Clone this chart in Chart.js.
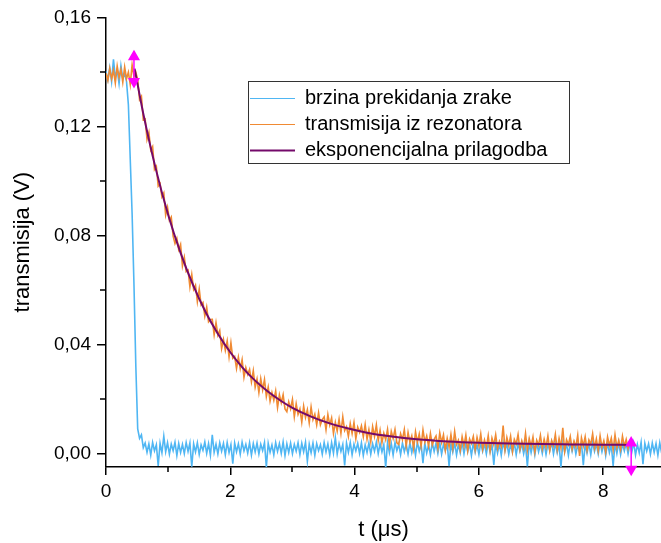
<!DOCTYPE html>
<html>
<head>
<meta charset="utf-8">
<title>transmisija</title>
<script src="https://cdn.jsdelivr.net/npm/chart.js@4.4.0/dist/chart.umd.min.js"></script>
<style>
    html, body { margin: 0; padding: 0; background: #fff; }
    #wrap { width: 661px; height: 543px; position: relative; }
</style>
</head>
<body>
<div id="wrap"><canvas id="decayChart"></canvas></div>
<script>
// scope sampling step (µs) for both traces
const SAMPLE_STEP = 0.03;

// beam chopping signal (V), one value per sample
const beamValues = [
    0.1402, 0.1371, 0.1415, 0.1364, 0.1446, 0.1380, 0.1408, 0.1357, 0.1423, 0.1376, 0.1394,
    0.1365, 0.1280, 0.1080, 0.0880, 0.0620, 0.0320, 0.0090, 0.0055, 0.0068, 0.0021,
    0.0038, 0.0004, 0.0035, -0.0006, 0.0040, 0.0009, 0.0032, -0.0046, 0.0037, 0.0002, 0.0063, 0.0006, 0.0039, -0.0003, 0.0034, 0.0010, 0.0041, -0.0008, 0.0036, 0.0003,
    0.0033, -0.0001, 0.0040, 0.0007, 0.0038, -0.0049, 0.0035, 0.0005, 0.0039, -0.0004, 0.0031, 0.0011, 0.0042, 0.0000, 0.0036, -0.0007, 0.0068, 0.0004, 0.0034, -0.0002,
    0.0039, 0.0008, 0.0037, -0.0005, 0.0040, 0.0003, 0.0032, -0.0038, 0.0038, 0.0006, 0.0035, -0.0003, 0.0041, 0.0009, 0.0033, 0.0001, 0.0039, -0.0006, 0.0036, 0.0005,
    0.0038, -0.0002, 0.0034, 0.0010, 0.0040, -0.0050, 0.0037, 0.0004, 0.0031, -0.0005, 0.0039, 0.0007, 0.0036, 0.0000, 0.0042, -0.0008, 0.0035, 0.0003, 0.0038, -0.0001,
    0.0033, 0.0008, 0.0039, -0.0004, 0.0037, 0.0006, 0.0041, -0.0029, 0.0034, 0.0002, 0.0038, -0.0007, 0.0036, 0.0010, 0.0032, -0.0003, 0.0040, 0.0005, 0.0035, -0.0006,
    0.0039, 0.0001, 0.0058, -0.0002, 0.0036, 0.0007, 0.0033, -0.0044, 0.0038, 0.0004, 0.0040, -0.0005, 0.0034, 0.0009, 0.0037, 0.0000, 0.0039, -0.0008, 0.0031, 0.0003,
    0.0038, -0.0003, 0.0035, 0.0008, 0.0041, -0.0001, 0.0036, 0.0005, 0.0032, -0.0051, 0.0039, 0.0002, 0.0037, -0.0006, 0.0040, 0.0010, 0.0033, -0.0004, 0.0038, 0.0006,
    0.0034, -0.0002, 0.0039, 0.0003, 0.0036, -0.0007, 0.0042, 0.0008, 0.0035, -0.0036, 0.0038, 0.0001, 0.0031, -0.0005, 0.0039, 0.0007, 0.0037, 0.0000, 0.0040, -0.0003,
    0.0033, 0.0009, 0.0038, -0.0047, 0.0036, 0.0004, 0.0039, -0.0006, 0.0034, 0.0002, 0.0041, -0.0001, 0.0037, 0.0006, 0.0035, -0.0008, 0.0038, 0.0003, 0.0032, -0.0004,
    0.0039, 0.0007, 0.0036, -0.0002, 0.0040, 0.0005, 0.0033, -0.0042, 0.0038, 0.0001, 0.0035, -0.0007, 0.0041, 0.0009, 0.0037, -0.0003, 0.0034, 0.0004, 0.0039, -0.0005,
    0.0036, 0.0008, 0.0038, -0.0001, 0.0032, -0.0048, 0.0039, 0.0003, 0.0037, -0.0006, 0.0040, 0.0006, 0.0034, 0.0000, 0.0038, -0.0004, 0.0035, 0.0010, 0.0042, -0.0002,
    0.0037, 0.0002, 0.0033, -0.0050, 0.0039, 0.0005, 0.0036, -0.0007, 0.0040, 0.0008, 0.0038, -0.0003, 0.0031, 0.0004, 0.0039, -0.0043, 0.0035, 0.0001, 0.0037, -0.0005,
    0.0041, 0.0007, 0.0034, -0.0002, 0.0038, 0.0006, 0.0036, -0.0008, 0.0039, 0.0003, 0.0032, -0.0046, 0.0037, 0.0000, 0.0040, -0.0004, 0.0035, 0.0009, 0.0038, -0.0001,
    0.0036, 0.0005, 0.0039, -0.0006, 0.0033, 0.0002, 0.0041, -0.0040, 0.0037, 0.0008, 0.0035, -0.0003, 0.0038, 0.0004, 0.0036, -0.0007, 0.0039, 0.0001
];

// transmission out of the resonator (V), one value per sample
const cavityValues = [
    0.1395, 0.1368, 0.1412, 0.1374, 0.1406, 0.1359, 0.1421, 0.1380, 0.1409, 0.1362, 0.1418, 0.1375, 0.1399, 0.1354, 0.1426, 0.1383, 0.1398,
    0.1372, 0.1298, 0.1310, 0.1224, 0.1227, 0.1152, 0.1178, 0.1113, 0.1126, 0.1042, 0.1053, 0.0981, 0.0990, 0.0942, 0.0956, 0.0875, 0.0903, 0.0855, 0.0867, 0.0797,
    0.0770, 0.0789, 0.0748, 0.0767, 0.0688, 0.0720, 0.0667, 0.0673, 0.0611, 0.0656, 0.0602, 0.0617, 0.0557, 0.0603, 0.0545, 0.0554, 0.0504, 0.0537, 0.0483, 0.0491,
    0.0492, 0.0435, 0.0480, 0.0434, 0.0451, 0.0385, 0.0418, 0.0378, 0.0413, 0.0354, 0.0406, 0.0349, 0.0356, 0.0312, 0.0353, 0.0311, 0.0344, 0.0279, 0.0315, 0.0290,
    0.0308, 0.0262, 0.0303, 0.0243, 0.0273, 0.0223, 0.0274, 0.0233, 0.0271, 0.0209, 0.0243, 0.0192, 0.0223, 0.0195, 0.0229, 0.0168, 0.0215, 0.0186, 0.0215, 0.0163,
    0.0153, 0.0189, 0.0164, 0.0198, 0.0134, 0.0182, 0.0143, 0.0163, 0.0115, 0.0173, 0.0132, 0.0160, 0.0112, 0.0170, 0.0124, 0.0144, 0.0105, 0.0149, 0.0105, 0.0124,
    0.0134, 0.0087, 0.0142, 0.0104, 0.0130, 0.0073, 0.0114, 0.0082, 0.0125, 0.0074, 0.0134, 0.0084, 0.0098, 0.0062, 0.0109, 0.0073, 0.0113, 0.0054, 0.0096, 0.0077,
    0.0101, 0.0061, 0.0106, 0.0052, 0.0087, 0.0043, 0.0098, 0.0062, 0.0104, 0.0047, 0.0085, 0.0039, 0.0074, 0.0050, 0.0088, 0.0030, 0.0081, 0.0055, 0.0088, 0.0039,
    0.0033, 0.0072, 0.0050, 0.0087, 0.0027, 0.0077, 0.0041, 0.0064, 0.0018, 0.0079, 0.0041, 0.0071, 0.0026, 0.0086, 0.0041, 0.0064, 0.0027, 0.0073, 0.0031, 0.0052,
    0.0064, 0.0019, 0.0075, 0.0040, 0.0068, 0.0012, 0.0055, 0.0024, 0.0069, 0.0020, 0.0080, 0.0032, 0.0048, 0.0012, 0.0061, 0.0027, 0.0067, 0.0010, 0.0053, 0.0036,
    0.0062, 0.0014, 0.0059, 0.0028, 0.0071, 0.0016, 0.0049, 0.0022, 0.0065, 0.0009, 0.0056, 0.0031, 0.0068, 0.0018, 0.0044, 0.0025, 0.0102, 0.0013, 0.0058, 0.0029,
    0.0063, 0.0007, 0.0051, 0.0034, 0.0069, 0.0015, 0.0046, 0.0020, 0.0073, 0.0011, 0.0054, 0.0026, 0.0060, 0.0005, 0.0048, 0.0030, 0.0066, 0.0017, 0.0052, 0.0023,
    0.0064, 0.0010, 0.0047, 0.0028, 0.0070, 0.0014, 0.0055, 0.0021, 0.0094, 0.0008, 0.0050, 0.0032, 0.0062, 0.0016, 0.0045, 0.0024, 0.0067, -0.0009, 0.0057, 0.0027,
    0.0061, 0.0012, 0.0049, 0.0033, 0.0072, 0.0019, 0.0053, 0.0010, 0.0064, 0.0022, 0.0046, 0.0006, 0.0060, 0.0029, 0.0056, 0.0013, 0.0068, 0.0021, 0.0048, 0.0015,
    0.0063, 0.0026, 0.0051, 0.0018, 0.0049
];

// exponential fit
const fitTimes = [0.46, 0.6, 0.8, 1.0, 1.2, 1.4, 1.6, 1.8, 2.0, 2.2, 2.4, 2.6, 2.8, 3.0, 3.3, 3.6, 3.9, 4.2, 4.6, 5.0, 5.5, 6.0, 6.5, 7.0, 7.5, 8.0, 8.45];
const fitValues = [0.1412, 0.1247, 0.1045, 0.0876, 0.0736, 0.0618, 0.0520, 0.0439, 0.0371, 0.0314, 0.0267, 0.0228, 0.0195, 0.0167, 0.0135, 0.0110, 0.0091, 0.0076, 0.0062, 0.0052, 0.0044, 0.0039, 0.0036, 0.0034, 0.0033, 0.0032, 0.0031];

// fit range markers (magenta)
const rangeStartT = 0.45;
const rangeStartY = [0.1456, 0.1365];
const rangeEndT = 8.45;
const rangeEndY = [0.0038, -0.0058];

const seriesLabels = ['brzina prekidanja zrake', 'transmisija iz rezonatora', 'eksponencijalna prilagodba'];

const xTickValues = [0, 2, 4, 6, 8];
const xMinorTicks = [1, 3, 5, 7];
const yTickValues = [0, 0.04, 0.08, 0.12, 0.16];
const yMinorTicks = [0.02, 0.06, 0.10, 0.14];

const FONT = '"Liberation Sans", Arial, sans-serif';

function sampled(values) {
    return values.map((v, i) => ({ x: i * SAMPLE_STEP, y: v }));
}

function paired(times, values) {
    return values.map((v, i) => ({ x: times[i], y: v }));
}

// small outward minor ticks, Chart.js has none
const minorTicks = {
    id: 'minorTicks',
    afterDraw(chart) {
        const { ctx, chartArea, scales } = chart;
        ctx.save();
        ctx.strokeStyle = '#000';
        ctx.lineWidth = 1.5;
        ctx.beginPath();
        xMinorTicks.forEach(v => {
            const px = Math.round(scales.x.getPixelForValue(v));
            ctx.moveTo(px, chartArea.bottom);
            ctx.lineTo(px, chartArea.bottom + 5);
        });
        yMinorTicks.forEach(v => {
            const py = Math.round(scales.y.getPixelForValue(v));
            ctx.moveTo(chartArea.left, py);
            ctx.lineTo(chartArea.left - 6, py);
        });
        ctx.stroke();
        ctx.restore();
    }
};

// legend box inside the plot, like the original
const boxLegend = {
    id: 'boxLegend',
    afterDraw(chart) {
        const ctx = chart.ctx;
        ctx.save();
        ctx.fillStyle = '#fff';
        ctx.fillRect(248.5, 81.5, 321, 82);
        ctx.strokeStyle = '#333';
        ctx.lineWidth = 1;
        ctx.strokeRect(248.5, 81.5, 321, 82);
        ctx.font = '20px ' + FONT;
        ctx.textBaseline = 'middle';
        const rows = [98, 124, 150];
        chart.data.datasets.slice(0, 3).forEach((ds, i) => {
            ctx.strokeStyle = ds.borderColor;
            ctx.lineWidth = ds.legendWidth;
            ctx.beginPath();
            ctx.moveTo(250, rows[i] + 0.5);
            ctx.lineTo(295, rows[i] + 0.5);
            ctx.stroke();
            ctx.fillStyle = '#000';
            ctx.fillText(ds.label, 305, rows[i]);
        });
        ctx.restore();
    }
};

new Chart(document.getElementById('decayChart'), {
    type: 'scatter',
    data: {
        datasets: [{
            label: seriesLabels[0],
            data: sampled(beamValues),
            showLine: true,
            borderColor: '#4fb6f3',
            borderWidth: 1.6,
            legendWidth: 1,
            pointRadius: 0,
            order: 3
        }, {
            label: seriesLabels[1],
            data: sampled(cavityValues),
            showLine: true,
            borderColor: '#f08a33',
            borderWidth: 1.6,
            legendWidth: 1,
            pointRadius: 0,
            order: 2
        }, {
            label: seriesLabels[2],
            data: paired(fitTimes, fitValues),
            showLine: true,
            borderColor: '#740a6a',
            borderWidth: 2,
            legendWidth: 2,
            pointRadius: 0,
            cubicInterpolationMode: 'monotone',
            order: 1
        }, {
            data: rangeStartY.map(v => ({ x: rangeStartT, y: v })),
            showLine: true,
            borderColor: '#ff00ff',
            backgroundColor: '#ff00ff',
            borderWidth: 1.5,
            pointStyle: 'triangle',
            pointRadius: 5.5,
            rotation: [0, 180],
            clip: false,
            order: 0
        }, {
            data: rangeEndY.map(v => ({ x: rangeEndT, y: v })),
            showLine: true,
            borderColor: '#ff00ff',
            backgroundColor: '#ff00ff',
            borderWidth: 1.5,
            pointStyle: 'triangle',
            pointRadius: 5.5,
            rotation: [0, 180],
            clip: false,
            order: 0
        }]
    },
    options: {
        responsive: true,
        maintainAspectRatio: false,
        animation: false,
        layout: {
            autoPadding: false,
            padding: { top: 13, right: 0, left: 0, bottom: 0 }
        },
        scales: {
            x: {
                type: 'linear',
                min: 0,
                max: 8.93,
                afterBuildTicks: scale => { scale.ticks = xTickValues.map(v => ({ value: v })); },
                afterFit: scale => { scale.height = 76; },
                ticks: {
                    callback: value => String(value),
                    color: '#000',
                    font: { size: 19, family: FONT },
                    padding: 5,
                    maxRotation: 0
                },
                grid: { drawOnChartArea: false, drawTicks: true, tickLength: 8, color: '#000', lineWidth: 1.5 },
                border: { color: '#000', width: 1.5 },
                title: {
                    display: true,
                    text: 't (μs)',
                    color: '#000',
                    font: { size: 22, family: FONT },
                    padding: { top: 3, bottom: 0 }
                }
            },
            y: {
                min: -0.005,
                max: 0.16,
                afterBuildTicks: scale => { scale.ticks = yTickValues.map(v => ({ value: v })); },
                afterFit: scale => { scale.width = 106; },
                ticks: {
                    callback: value => value.toFixed(2).replace('.', ','),
                    color: '#000',
                    font: { size: 19, family: FONT },
                    padding: 6
                },
                grid: { drawOnChartArea: false, drawTicks: true, tickLength: 9, color: '#000', lineWidth: 1.5 },
                border: { color: '#000', width: 1.5 },
                title: {
                    display: true,
                    text: 'transmisija (V)',
                    color: '#000',
                    font: { size: 22, family: FONT },
                    padding: { top: 10, bottom: 0 }
                }
            }
        },
        plugins: {
            legend: { display: false },
            tooltip: { enabled: false }
        }
    },
    plugins: [minorTicks, boxLegend]
});
</script>
</body>
</html>
